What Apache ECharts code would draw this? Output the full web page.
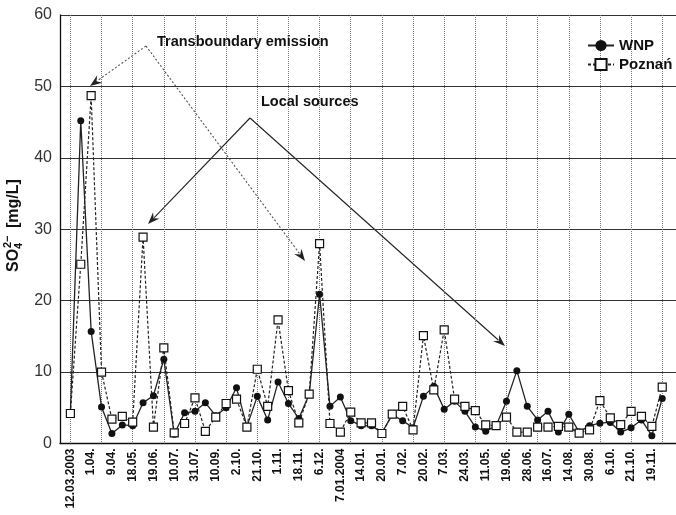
<!DOCTYPE html>
<html>
<head>
<meta charset="utf-8">
<script src="https://cdn.jsdelivr.net/npm/echarts@6/dist/echarts.min.js"></script>
<style>
  html, body { margin: 0; padding: 0; background: #fff; overflow: hidden; }
  #chart { width: 700px; height: 515px; }
</style>
</head>
<body>
<div id="chart"></div>
<script>
// Sampling dates printed under every second sample
const tickLabels = [
  '12.03.2003', '1.04.', '9.04.', '18.05.', '19.06.', '10.07.', '31.07.', '10.09.',
  '2.10.', '21.10.', '1.11.', '18.11.', '6.12.', '7.01.2004', '14.01.', '20.01.',
  '7.02.', '20.02.', '7.03.', '24.03.', '11.05.', '19.06.', '28.06.', '16.07.',
  '14.08.', '30.08.', '6.10.', '21.10.', '19.11.'
];

// SO4 2- concentration [mg/L], one value per sample
const wnp = [
  4.3, 45.2, 15.7, 5.1, 1.4, 2.6, 2.5, 5.7, 6.7, 11.8,
  1.3, 4.3, 4.5, 5.7, 3.9, 5.0, 7.8, 2.4, 6.6, 3.3,
  8.6, 5.6, 3.5, 6.9, 20.9, 5.2, 6.5, 3.2, 2.5, 2.5,
  1.5, 4.0, 3.2, 2.2, 6.6, 8.0, 4.8, 5.9, 4.5, 2.3,
  1.7, 2.5, 5.9, 10.2, 5.2, 3.3, 4.5, 1.6, 4.1, 1.6,
  2.5, 2.85, 2.95, 1.6, 2.2, 3.3, 1.1, 6.3
];
const poznan = [
  4.2, 25.1, 48.7, 10.0, 3.4, 3.8, 3.0, 28.9, 2.3, 13.4,
  1.5, 2.8, 6.4, 1.7, 3.7, 5.6, 6.2, 2.3, 10.4, 5.2,
  17.3, 7.4, 2.9, 6.9, 28.0, 2.8, 1.6, 4.4, 2.9, 2.9,
  1.4, 4.1, 5.2, 1.9, 15.1, 7.5, 15.9, 6.2, 5.2, 4.6,
  2.6, 2.5, 3.7, 1.6, 1.6, 2.3, 2.3, 2.4, 2.3, 1.45,
  1.9, 6.0, 3.6, 2.65, 4.5, 3.8, 2.4, 7.9
];

const seriesNames = ['WNP', 'Poznań'];

// one empty slot before the first sample, two after the last
const LEAD = 1, TRAIL = 2;
const nCat = LEAD + wnp.length + TRAIL;
const categories = Array.from({ length: nCat }, (_, k) => String(k));

function dateLabel(k) {
  const i = k - LEAD;
  if (i >= 0 && i % 2 === 0 && i / 2 < tickLabels.length) return tickLabels[i / 2];
  return '';
}
function isGridSlot(k) {
  const i = k - LEAD;
  return i >= 0 && i % 3 === 0 && i < wnp.length;
}
const toPoints = arr => arr.map((v, i) => [i + LEAD, v]);

const FONT = '"Liberation Sans", Arial, sans-serif';
const INK = '#111';

// straight annotation arrow with a filled head at "to"
function arrow(from, to, dashed) {
  const dx = to[0] - from[0], dy = to[1] - from[1];
  const len = Math.hypot(dx, dy);
  const ux = dx / len, uy = dy / len;
  const L = 12, W = 4.5;
  const bx = to[0] - ux * L, by = to[1] - uy * L;
  const nx = -uy, ny = ux;
  return [
    {
      type: 'line',
      shape: { x1: from[0], y1: from[1], x2: bx + ux * 3, y2: by + uy * 3 },
      style: { stroke: dashed ? '#555' : '#222', lineWidth: 1.1, lineDash: dashed ? [2, 2] : null }
    },
    {
      type: 'polygon',
      shape: { points: [to, [bx + nx * W, by + ny * W], [to[0] - ux * 8, to[1] - uy * 8], [bx - nx * W, by - ny * W]] },
      style: { fill: '#222' }
    }
  ];
}

const transApex = [146, 46];
const localApex = [250, 118];

const chart = echarts.init(document.getElementById('chart'), null, { renderer: 'canvas' });

chart.setOption({
  animation: false,
  backgroundColor: '#fff',
  grid: { left: 60, right: 17, top: 15, bottom: 71.5, outerBoundsMode: 'none' },
  legend: {
    data: seriesNames,
    orient: 'vertical',
    left: 582,
    top: 33,
    itemWidth: 26,
    itemHeight: 14,
    itemGap: 4,
    textStyle: { fontFamily: FONT, fontWeight: 'bold', fontSize: 15, color: INK }
  },
  xAxis: {
    type: 'category',
    data: categories,
    boundaryGap: false,
    axisLine: { show: true, onZero: false, lineStyle: { color: INK, width: 1.3 } },
    axisTick: { show: false },
    axisLabel: {
      interval: 0,
      rotate: 90,
      margin: 5,
      fontFamily: FONT,
      fontWeight: 'bold',
      fontSize: 12,
      color: INK,
      formatter: (value, index) => dateLabel(index)
    },
    splitLine: {
      show: true,
      interval: (index) => isGridSlot(index),
      lineStyle: { color: '#777', type: 'dotted', width: 1 }
    }
  },
  yAxis: {
    type: 'value',
    min: 0,
    max: 60,
    interval: 10,
    axisLine: { show: true, lineStyle: { color: INK, width: 1.3 } },
    axisTick: { show: false },
    axisLabel: { fontFamily: FONT, fontSize: 16, color: '#333', margin: 8 },
    splitLine: { show: true, lineStyle: { color: '#333', width: 1.2 } }
  },
  series: [
    {
      name: seriesNames[0],
      type: 'line',
      data: toPoints(wnp),
      symbol: 'circle',
      symbolSize: 7,
      showAllSymbol: true,
      itemStyle: { color: INK },
      lineStyle: { color: '#222', width: 1.3 },
      z: 2
    },
    {
      name: seriesNames[1],
      type: 'line',
      data: toPoints(poznan),
      symbol: 'rect',
      symbolSize: 8,
      showAllSymbol: true,
      itemStyle: { color: '#fff', borderColor: INK, borderWidth: 1.2 },
      lineStyle: { color: '#222', width: 1.2, type: [3, 2] },
      z: 3
    }
  ],
  graphic: [
    // y axis title: SO4(2-) [mg/L], reading bottom to top
    {
      type: 'group',
      x: 14,
      y: 272,
      rotation: Math.PI / 2,
      children: [
        { type: 'text', x: 0, y: 0, style: { text: 'SO', fontFamily: FONT, fontWeight: 'bold', fontSize: 16, fill: INK, align: 'left', verticalAlign: 'middle' } },
        { type: 'text', x: 23, y: 5, style: { text: '4', fontFamily: FONT, fontWeight: 'bold', fontSize: 11, fill: INK, align: 'left', verticalAlign: 'middle' } },
        { type: 'text', x: 24, y: -6, style: { text: '2\u2212', fontFamily: FONT, fontWeight: 'bold', fontSize: 11, fill: INK, align: 'left', verticalAlign: 'middle' } },
        { type: 'text', x: 44, y: 0, style: { text: '[mg/L]', fontFamily: FONT, fontWeight: 'bold', fontSize: 16, fill: INK, align: 'left', verticalAlign: 'middle' } }
      ]
    },
    {
      type: 'text', x: 157, y: 42, z: 10,
      style: { text: 'Transboundary emission', fontFamily: FONT, fontWeight: 'bold', fontSize: 14.5, fill: INK, align: 'left', verticalAlign: 'middle' }
    },
    {
      type: 'text', x: 261, y: 102, z: 10,
      style: { text: 'Local sources', fontFamily: FONT, fontWeight: 'bold', fontSize: 14.5, fill: INK, align: 'left', verticalAlign: 'middle' }
    },
    ...arrow(transApex, [90, 86], true),
    ...arrow(transApex, [305, 261], true),
    ...arrow(localApex, [148, 224], false),
    ...arrow(localApex, [505, 346], false)
  ]
});
</script>
</body>
</html>
